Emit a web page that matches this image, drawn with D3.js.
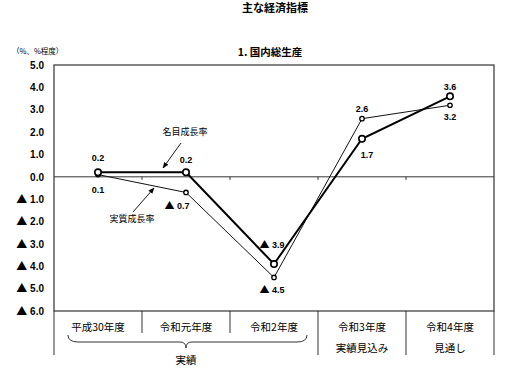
<!DOCTYPE html>
<html>
<head>
<meta charset="utf-8">
<script src="https://cdn.jsdelivr.net/npm/d3@7"></script>
<style>
  body { margin: 0; background: #fff; }
  svg { font-family: "Noto Sans CJK JP", "Liberation Sans", sans-serif; }
  .tri { font-family: "Noto Sans CJK JP", sans-serif; }
</style>
</head>
<body>
<svg id="chart" width="520" height="373"></svg>
<script>
const categories = ["平成30年度", "令和元年度", "令和2年度", "令和3年度", "令和4年度"];
const subLabels = ["", "", "", "実績見込み", "見通し"];
const nominal = [0.2, 0.2, -3.9, 1.7, 3.6];   // 名目成長率
const real = [0.1, -0.7, -4.5, 2.6, 3.2];     // 実質成長率
const yTicks = [5, 4, 3, 2, 1, 0, -1, -2, -3, -4, -5, -6];

const plotL = 54, plotR = 494, plotT = 65, plotB = 311;
const svg = d3.select("#chart");

const x = d3.scaleBand().domain(categories).range([plotL, plotR]).padding(0);
const cx = d => x(d) + x.bandwidth() / 2;
const y = d3.scaleLinear().domain([-6, 5]).range([plotB, plotT]);

// negative values are written with a black triangle
function writeVal(sel, v, triSize) {
  sel.text(null);
  if (v < 0) sel.append("tspan").attr("class", "tri").style("font-size", triSize).text("▲");
  sel.append("tspan").text((v < 0 ? " " : "") + Math.abs(v).toFixed(1));
}

// titles
svg.append("text").attr("x", 275).attr("y", 12).attr("text-anchor", "middle")
  .style("font-size", "11px").style("font-weight", "bold").text("主な経済指標");
svg.append("text").attr("x", 270).attr("y", 56).attr("text-anchor", "middle")
  .style("font-size", "10.5px").style("font-weight", "bold").text("1. 国内総生産");
svg.append("text").attr("x", 12).attr("y", 54)
  .style("font-size", "7.5px").text("（%、%程度）");

// y axis
const yAxis = svg.append("g")
  .attr("transform", `translate(${plotL},0)`)
  .call(d3.axisLeft(y).tickValues(yTicks).tickSize(0).tickPadding(10));
yAxis.select(".domain").remove();
yAxis.selectAll("text")
  .style("font-family", "'Liberation Sans', Arial, sans-serif")
  .style("font-size", "10px").style("font-weight", "bold").attr("fill", "#000")
  .each(function(v) { writeVal(d3.select(this), v, "11px"); });

// frame
const frame = svg.append("g").attr("stroke", "#333").attr("fill", "none");
frame.append("rect").attr("x", plotL).attr("y", plotT)
  .attr("width", plotR - plotL).attr("height", plotB - plotT).attr("stroke-width", 1.2);
frame.append("line").attr("x1", plotL).attr("x2", plotL).attr("y1", plotB).attr("y2", 355);
frame.append("line").attr("x1", plotR).attr("x2", plotR).attr("y1", plotB).attr("y2", 355);

// zero line + ticks
svg.append("line").attr("x1", plotL).attr("x2", plotR)
  .attr("y1", y(0)).attr("y2", y(0)).attr("stroke", "#333").attr("stroke-width", 1);
categories.slice(1).forEach(c => {
  svg.append("line").attr("x1", x(c)).attr("x2", x(c))
    .attr("y1", y(0)).attr("y2", y(0) + 3).attr("stroke", "#333");
  const long = c === "令和3年度" || c === "令和4年度";
  svg.append("line").attr("x1", x(c)).attr("x2", x(c))
    .attr("y1", plotB).attr("y2", long ? 355 : 333).attr("stroke", "#333");
});

// category labels
const catG = svg.append("g").style("font-size", "10.5px").attr("text-anchor", "middle");
categories.forEach((c, i) => {
  catG.append("text").attr("x", cx(c)).attr("y", 331).text(c);
  if (subLabels[i]) catG.append("text").attr("x", cx(c)).attr("y", 352).text(subLabels[i]);
});

// brace under first three categories
const bx0 = x(categories[0]) + 14, bx1 = x(categories[2]) + x.bandwidth() - 11;
const bm = cx(categories[1]);
svg.append("path")
  .attr("d", `M${bx0},335 Q${bx0},342 ${bx0 + 10},342 L${bm - 6},342 Q${bm},342 ${bm},348 Q${bm},342 ${bm + 6},342 L${bx1 - 10},342 Q${bx1},342 ${bx1},335`)
  .attr("fill", "none").attr("stroke", "#333").attr("stroke-width", 1);
svg.append("text").attr("x", bm).attr("y", 364).attr("text-anchor", "middle")
  .style("font-size", "10.5px").text("実績");

// lines
const line = d3.line().x((d, i) => cx(categories[i])).y(d => y(d));
svg.append("path").datum(real).attr("d", line)
  .attr("fill", "none").attr("stroke", "#111").attr("stroke-width", 1);
svg.append("path").datum(nominal).attr("d", line)
  .attr("fill", "none").attr("stroke", "#000").attr("stroke-width", 2);

svg.selectAll(".rdot").data(real).enter().append("circle")
  .attr("cx", (d, i) => cx(categories[i])).attr("cy", d => y(d)).attr("r", 2.2)
  .attr("fill", "#fff").attr("stroke", "#000").attr("stroke-width", 1.3);
svg.selectAll(".ndot").data(nominal).enter().append("circle")
  .attr("cx", (d, i) => cx(categories[i])).attr("cy", d => y(d)).attr("r", 3.2)
  .attr("fill", "#fff").attr("stroke", "#000").attr("stroke-width", 1.6);

// value labels: [dx, dy] offsets from the point
const nomOff = [[0, -14], [0, -12], [-2, -19], [5, 16], [0, -9]];
const realOff = [[0, 15], [-9, 14], [-2, 13], [0, -10], [0, 12]];
const lab = svg.append("g").style("font-family", "'Liberation Sans', Arial, sans-serif")
  .style("font-size", "9px").style("font-weight", "bold").attr("text-anchor", "middle");
nominal.forEach((v, i) => {
  lab.append("text").attr("x", cx(categories[i]) + nomOff[i][0])
    .attr("y", y(v) + nomOff[i][1] + 3).call(writeVal, v, "10px");
});
real.forEach((v, i) => {
  lab.append("text").attr("x", cx(categories[i]) + realOff[i][0])
    .attr("y", y(v) + realOff[i][1] + 3).call(writeVal, v, "10px");
});

// annotations with arrows
svg.append("defs").append("marker").attr("id", "arr")
  .attr("viewBox", "0 0 10 10").attr("refX", 9).attr("refY", 5)
  .attr("markerWidth", 7).attr("markerHeight", 7).attr("orient", "auto")
  .append("path").attr("d", "M0,1 L10,5 L0,9 Z").attr("fill", "#000");

svg.append("text").attr("x", 185).attr("y", 135).attr("text-anchor", "middle")
  .style("font-size", "9px").text("名目成長率");
svg.append("line").attr("x1", 181).attr("y1", 143).attr("x2", 163).attr("y2", 168)
  .attr("stroke", "#000").attr("stroke-width", 0.9).attr("marker-end", "url(#arr)");

svg.append("text").attr("x", 132).attr("y", 222).attr("text-anchor", "middle")
  .style("font-size", "9px").text("実質成長率");
svg.append("line").attr("x1", 133).attr("y1", 212).attr("x2", 154).attr("y2", 188)
  .attr("stroke", "#000").attr("stroke-width", 0.9).attr("marker-end", "url(#arr)");
</script>
</body>
</html>
